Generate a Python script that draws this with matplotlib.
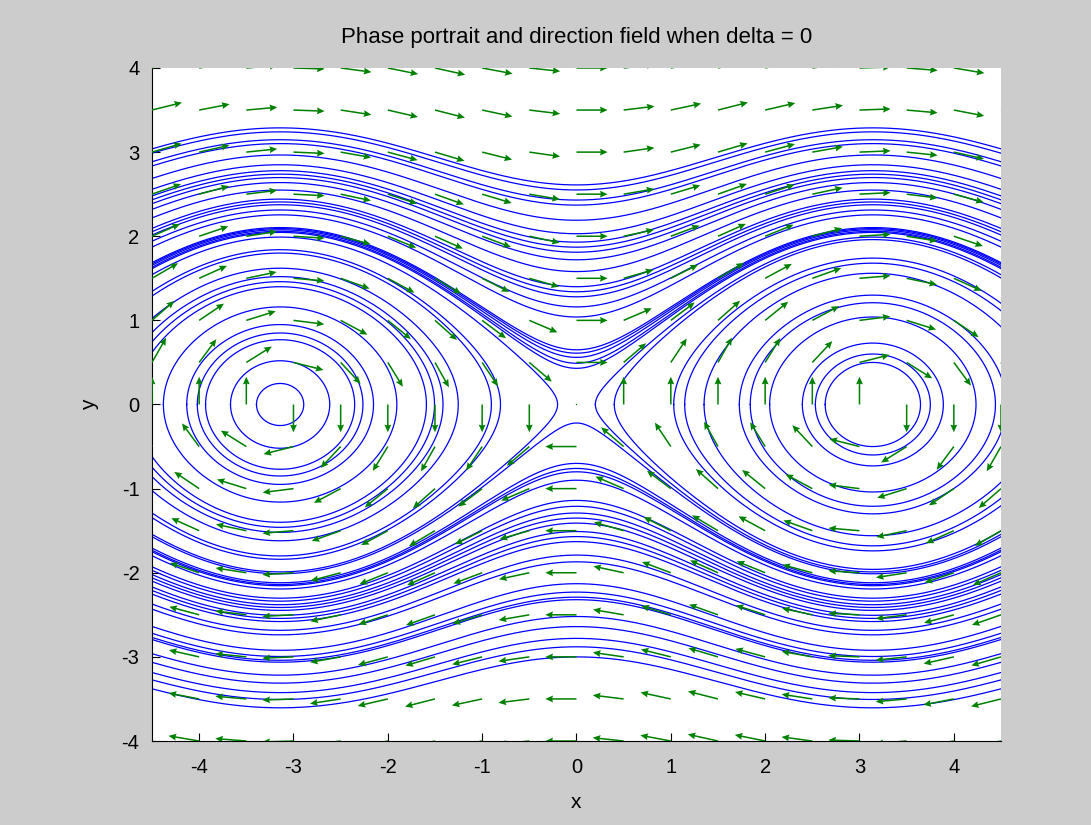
import numpy as np
import matplotlib
matplotlib.use("Agg")
import matplotlib.pyplot as plt

# y value where each rotating trajectory crosses x = 0 (upper band)
top_y0 = [2.61, 2.55, 2.43, 2.37, 2.19, 2.03, 1.93, 1.87, 1.81, 1.72,
          1.58, 1.40, 1.34, 1.28, 1.16, 1.04, 0.65, 0.61, 0.56, 0.49, 0.43]
# same for the lower band (absolute values, drawn below the axis)
bottom_y0 = [0.22, 0.70, 0.76, 0.80, 0.90, 1.14, 1.21, 1.29, 1.35, 1.41,
             1.51, 1.57, 1.63, 1.79, 1.87, 2.13, 2.23, 2.29, 2.32, 2.52,
             2.64, 2.78, 2.88, 3.00]
# closed orbits: height of each loop above the centre at x = -pi / x = +pi
left_amp = [0.25, 0.52, 0.77, 0.85, 0.95, 1.16, 1.40, 1.46, 1.52, 1.62,
            1.80, 1.84, 1.99]
right_amp = [0.50, 0.60, 0.73, 1.04, 1.21, 1.30, 1.56, 1.68, 1.74, 1.96, 1.99]
centres = {-np.pi: left_amp, np.pi: right_amp}

# direction field grid
x_lim = (-4.5, 4.5)
y_lim = (-4, 4)
grid_step = 0.5
arrow_len = 0.33

xticks = [-4, -3, -2, -1, 0, 1, 2, 3, 4]
yticks = [-4, -3, -2, -1, 0, 1, 2, 3, 4]

plt.rcParams['font.family'] = ['Liberation Sans', 'DejaVu Sans']

fig = plt.figure(figsize=(10.91, 8.25), dpi=100, facecolor='#cccccc')
ax = fig.add_axes([0.1393, 0.1018, 0.7782, 0.8158])
ax.set_facecolor('white')

blue = '#0000ff'
lw = 0.9
xs = np.linspace(x_lim[0], x_lim[1], 800)

# rotating trajectories: y^2/2 + cos(x) is conserved
for y0 in top_y0:
    ax.plot(xs, np.sqrt(y0 ** 2 + 2 * (1 - np.cos(xs))), color=blue, lw=lw)
for y0 in bottom_y0:
    ax.plot(xs, -np.sqrt(y0 ** 2 + 2 * (1 - np.cos(xs))), color=blue, lw=lw)

# closed orbits around the two centres
t = np.linspace(-np.pi / 2, np.pi / 2, 400)
for c, amps in centres.items():
    for a in amps:
        th_max = np.arccos(1 - a ** 2 / 2)
        th = th_max * np.sin(t)
        yy = np.sqrt(np.clip(a ** 2 - 2 * (1 - np.cos(th)), 0, None))
        ox = np.concatenate([c + th, (c + th)[::-1]])
        oy = np.concatenate([yy, -yy[::-1]])
        ax.plot(ox, oy, color=blue, lw=lw)

# direction field (normalised arrows), x' = y, y' = sin(x)
gx, gy = np.meshgrid(np.arange(x_lim[0], x_lim[1] + 0.01, grid_step),
                     np.arange(y_lim[0], y_lim[1] + 0.01, grid_step))
u = gy
v = np.sin(gx)
n = np.hypot(u, v)
n[n == 0] = 1
ax.quiver(gx, gy, u / n * arrow_len, v / n * arrow_len, color='#008000',
          angles='xy', scale_units='xy', scale=1, pivot='tail',
          width=0.0018, headwidth=4.5, headlength=5, headaxislength=4.5,
          zorder=3)

ax.set_xlim(*x_lim)
ax.set_ylim(*y_lim)
ax.set_xticks(xticks)
ax.set_yticks(yticks)
ax.set_xticklabels([str(v) for v in xticks])
ax.set_yticklabels([str(v) for v in yticks])
ax.tick_params(direction='in', length=6, labelsize=14.5)
ax.tick_params(axis='x', pad=12)
ax.tick_params(axis='y', pad=9)
for s in ['top', 'right']:
    ax.spines[s].set_visible(False)
ax.set_title('Phase portrait and direction field when delta = 0',
             fontsize=16, pad=18)
ax.set_xlabel('x', fontsize=15, labelpad=12)
ax.set_ylabel('y', fontsize=15, labelpad=16)

fig.savefig('out.png', dpi=100, facecolor=fig.get_facecolor())
